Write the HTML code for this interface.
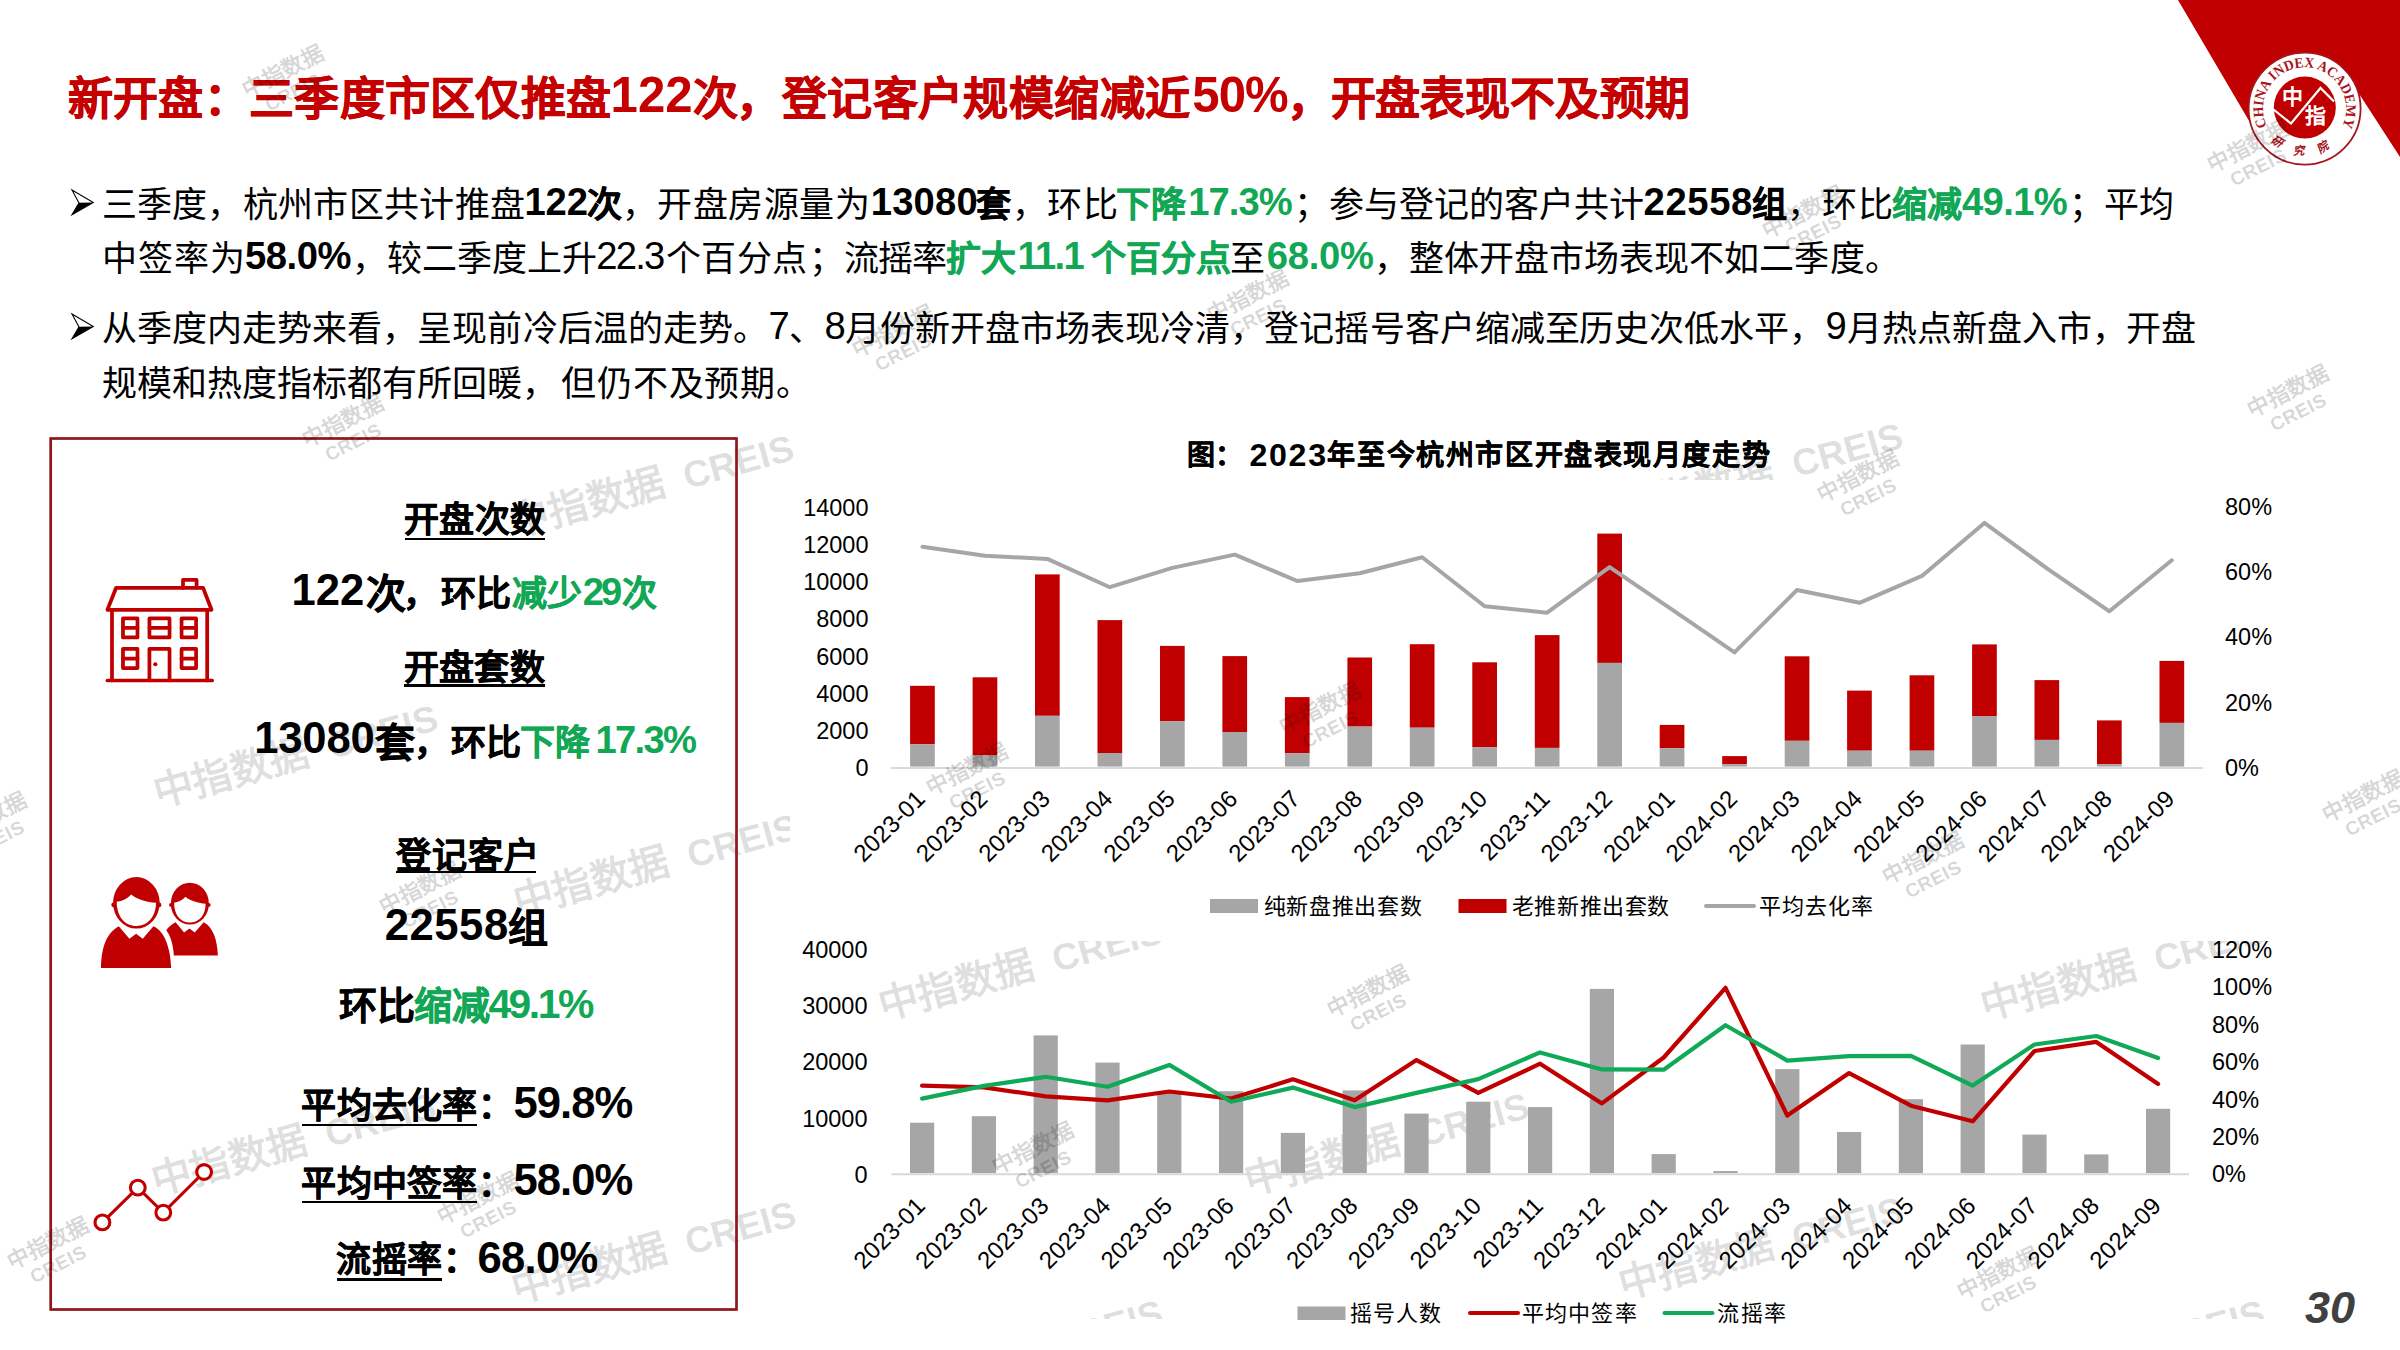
<!DOCTYPE html>
<html lang="zh-CN">
<head>
<meta charset="utf-8">
<title>新开盘</title>
<style>
html,body{margin:0;padding:0;background:#fff;width:2400px;height:1350px;overflow:hidden;}
#page{width:2400px;height:1350px;position:absolute;left:0;top:0;overflow:hidden;background:#fff;}
body{position:relative;font-family:"Liberation Sans",sans-serif;color:#000;}
.abs{position:absolute;white-space:nowrap;}
.b{font-weight:bold;}
.g{color:#12a755;font-weight:bold;}
.d{letter-spacing:1.1px;}
.r{letter-spacing:-0.5px;}
#title{left:68px;top:65px;font-size:45px;line-height:66px;font-weight:bold;color:#c00000;}
#title .d{letter-spacing:2px;}
.body{font-size:35px;line-height:55px;left:102px;}
.wm{position:absolute;white-space:nowrap;color:rgba(0,0,0,0.135);font-weight:bold;transform-origin:0 50%;line-height:1;font-size:40px;}
.wm span{font-size:37px;margin-left:9px;}
.wms{position:absolute;white-space:nowrap;font-weight:bold;color:rgba(0,0,0,0.17);transform-origin:50% 50%;line-height:1;text-align:center;font-size:22px;width:120px;}
.wms span{font-size:19px;font-weight:bold;letter-spacing:0.5px;}
.lp{position:absolute;white-space:nowrap;font-weight:bold;line-height:50px;height:50px;}
.ul{position:absolute;height:2.3px;background:#000;}
svg{position:absolute;left:0;top:0;overflow:visible;}
svg text{font-family:"Liberation Sans",sans-serif;}
</style>
</head>
<body>
<div id="page">
<div class="wm" style="left:154px;top:773.5px;transform:rotate(-15.5deg);">中指数据 <span>CREIS</span></div>
<div class="wm" style="left:152px;top:1162px;transform:rotate(-15.5deg);">中指数据 <span>CREIS</span></div>
<div class="wm" style="left:510px;top:504px;transform:rotate(-15.5deg);">中指数据 <span>CREIS</span></div>
<div class="wm" style="left:514px;top:883px;transform:rotate(-15.5deg);">中指数据 <span>CREIS</span></div>
<div class="wm" style="left:512px;top:1270px;transform:rotate(-15.5deg);">中指数据 <span>CREIS</span></div>
<div class="wm" style="left:878.5px;top:986.5px;transform:rotate(-15.5deg);">中指数据 <span>CREIS</span></div>
<div class="wm" style="left:878.5px;top:1369px;transform:rotate(-15.5deg);">中指数据 <span>CREIS</span></div>
<div class="wm" style="left:1245px;top:1162px;transform:rotate(-15.5deg);">中指数据 <span>CREIS</span></div>
<div class="wm" style="left:1619px;top:1265.5px;transform:rotate(-15.5deg);">中指数据 <span>CREIS</span></div>
<div class="wm" style="left:1619px;top:492px;transform:rotate(-15.5deg);">中指数据 <span>CREIS</span></div>
<div class="wm" style="left:1981px;top:987px;transform:rotate(-15.5deg);">中指数据 <span>CREIS</span></div>
<div class="wm" style="left:1981px;top:1369px;transform:rotate(-15.5deg);">中指数据 <span>CREIS</span></div>
<div class="abs" style="left:790px;top:480px;width:1520px;height:461px;background:#fff;"></div>
<div class="abs" style="left:740px;top:1319px;width:1560px;height:31px;background:#fff;"></div>
<svg width="2400" height="1350" viewBox="0 0 2400 1350">
<polygon points="2178,0 2400,0 2400,157 2345,72 2255,131" fill="#c00000"/>
<circle cx="2304.6" cy="108.6" r="56" fill="#fff" stroke="#a8141c" stroke-width="1.8"/>
<circle cx="2304.8" cy="107.6" r="31" fill="#c00000"/>
<defs>
<path id="arcTop" d="M 2266.9,126.2 A 41.5,41.5 0 1 1 2342.3,126.2"/>
<path id="arcBot" d="M 2266.2,134.5 A 46.5,46.5 0 0 0 2343,134.5"/>
</defs>
<text font-size="14.5" font-weight="bold" fill="#a8141c" style="font-family:'Liberation Serif',serif;"><textPath href="#arcTop" startOffset="0" textLength="166" lengthAdjust="spacingAndGlyphs">CHINA INDEX ACADEMY</textPath></text>
<text font-size="11.5" font-weight="bold" font-style="italic" fill="#a8141c" style="font-family:'Liberation Serif',serif;letter-spacing:15px"><textPath href="#arcBot" startOffset="52%" text-anchor="middle">研究院</textPath></text>
<polyline points="2273.5,109.5 2291,123.5 2320.5,88 2334,101.5" fill="none" stroke="#fff" stroke-width="2.2" stroke-linejoin="miter"/>
<text x="2282" y="104" font-size="21" font-weight="bold" fill="#fff">中</text>
<text x="2305" y="123" font-size="21" font-weight="bold" fill="#fff">指</text>
</svg>
<span class="abs" style="left:67.75px;top:66.5px;font-size:45px;line-height:66px;letter-spacing:0.300px;font-weight:bold;color:#c40000;-webkit-text-stroke:0.58px;">新开盘：三季度市区仅推盘</span><span class="abs" style="left:610.58px;top:62.09px;font-size:49.1px;line-height:66px;letter-spacing:0.062px;font-weight:bold;color:#c40000;">122</span><span class="abs" style="left:693.05px;top:66.5px;font-size:45px;line-height:66px;font-weight:bold;color:#c40000;-webkit-text-stroke:0.58px;">次</span><span class="abs" style="left:736.25px;top:66.5px;font-size:45px;line-height:66px;letter-spacing:0.431px;font-weight:bold;color:#c40000;-webkit-text-stroke:0.58px;">，登记客户规模缩减近</span><span class="abs" style="left:1192.25px;top:62.09px;font-size:49.1px;line-height:66px;letter-spacing:-0.875px;font-weight:bold;color:#c40000;">50%</span><span class="abs" style="left:1286.50px;top:66.5px;font-size:45px;line-height:66px;font-weight:bold;color:#c40000;-webkit-text-stroke:0.58px;">，</span><span class="abs" style="left:1330.50px;top:66.5px;font-size:45px;line-height:66px;letter-spacing:-0.018px;font-weight:bold;color:#c40000;-webkit-text-stroke:0.58px;">开盘表现不及预期</span>
<svg width="2400" height="1350" viewBox="0 0 2400 1350"><path d="M72,190.0 L93.3,202.4 L72,214.8 L79,203.0 Z" fill="#fff" stroke="#000" stroke-width="1.1" stroke-linejoin="miter"/><path d="M79,202.8 L93.3,202.4 L72,214.8 Z" fill="#000"/></svg>
<svg width="2400" height="1350" viewBox="0 0 2400 1350"><path d="M72,314.0 L93.3,326.4 L72,338.79999999999995 L79,327.0 Z" fill="#fff" stroke="#000" stroke-width="1.1" stroke-linejoin="miter"/><path d="M79,326.79999999999995 L93.3,326.4 L72,338.79999999999995 Z" fill="#000"/></svg>
<span class="abs" style="left:101.65px;top:176.5px;font-size:35px;line-height:55px;letter-spacing:0.286px;">三季度，杭州市区共计推盘</span><span class="abs b" style="left:524.52px;top:173.86px;font-size:38.2px;line-height:55px;letter-spacing:-0.137px;">122</span><span class="abs b" style="left:587.00px;top:176.5px;font-size:35px;line-height:55px;-webkit-text-stroke:0.45px;">次</span><span class="abs" style="left:621.55px;top:176.5px;font-size:35px;line-height:55px;letter-spacing:0.533px;">，开盘房源量为</span><span class="abs b" style="left:870.73px;top:173.86px;font-size:38.2px;line-height:55px;letter-spacing:0.194px;">13080</span><span class="abs b" style="left:976.02px;top:176.5px;font-size:35px;line-height:55px;-webkit-text-stroke:0.45px;">套</span><span class="abs" style="left:1012.15px;top:176.5px;font-size:35px;line-height:55px;letter-spacing:0.225px;">，环比</span><span class="abs g" style="left:1116.01px;top:176.5px;font-size:35px;line-height:55px;-webkit-text-stroke:0.45px;">下降</span><span class="abs g" style="left:1188.22px;top:173.86px;font-size:38.2px;line-height:55px;letter-spacing:-0.925px;">17.3%</span><span class="abs" style="left:1294.28px;top:176.5px;font-size:35px;line-height:55px;letter-spacing:0.022px;">；参与登记的客户共计</span><span class="abs b" style="left:1643.62px;top:173.86px;font-size:38.2px;line-height:55px;letter-spacing:0.625px;">22558</span><span class="abs b" style="left:1751.97px;top:176.5px;font-size:35px;line-height:55px;-webkit-text-stroke:0.45px;">组</span><span class="abs" style="left:1787.15px;top:176.5px;font-size:35px;line-height:55px;letter-spacing:0.225px;">，环比</span><span class="abs g" style="left:1891.81px;top:176.5px;font-size:35px;line-height:55px;-webkit-text-stroke:0.45px;">缩减</span><span class="abs g" style="left:1961.88px;top:173.86px;font-size:38.2px;line-height:55px;letter-spacing:-0.587px;">49.1%</span><span class="abs" style="left:2069.28px;top:176.5px;font-size:35px;line-height:55px;letter-spacing:0.062px;">；平均</span>
<span class="abs" style="left:102.22px;top:231px;font-size:35px;line-height:55px;letter-spacing:0.842px;">中签率为</span><span class="abs b" style="left:245.00px;top:228.36px;font-size:38.2px;line-height:55px;letter-spacing:-0.444px;">58.0%</span><span class="abs" style="left:351.50px;top:231px;font-size:35px;line-height:55px;letter-spacing:0.042px;">，较二季度上升</span><span class="abs" style="left:596.23px;top:228.36px;font-size:38.2px;line-height:55px;letter-spacing:-1.742px;">22.3</span><span class="abs" style="left:666.25px;top:231px;font-size:35px;line-height:55px;letter-spacing:0.167px;">个百分点</span><span class="abs" style="left:809.27px;top:231px;font-size:35px;line-height:55px;letter-spacing:-0.642px;">；流摇率</span><span class="abs g" style="left:946.01px;top:231px;font-size:35px;line-height:55px;-webkit-text-stroke:0.45px;">扩大</span><span class="abs g" style="left:1017.62px;top:228.36px;font-size:38.2px;line-height:55px;letter-spacing:-1.708px;">11.1</span><span class="abs g" style="left:1091.03px;top:231px;font-size:35px;line-height:55px;letter-spacing:0.033px;-webkit-text-stroke:0.45px;">个百分点</span><span class="abs" style="left:1230.03px;top:231px;font-size:35px;line-height:55px;">至</span><span class="abs g" style="left:1266.72px;top:228.36px;font-size:38.2px;line-height:55px;letter-spacing:-0.250px;">68.0%</span><span class="abs" style="left:1374.00px;top:231px;font-size:35px;line-height:55px;letter-spacing:0.041px;">，整体开盘市场表现不如二季度。</span>
<span class="abs" style="left:101.80px;top:300.5px;font-size:35px;line-height:55px;letter-spacing:0.060px;">从季度内走势来看，呈现前冷后温的走势。</span><span class="abs" style="left:768.60px;top:298.36px;font-size:38.2px;line-height:55px;">7</span><span class="abs" style="left:788.73px;top:300.5px;font-size:35px;line-height:55px;">、</span><span class="abs" style="left:824.62px;top:298.36px;font-size:38.2px;line-height:55px;">8</span><span class="abs" style="left:845.25px;top:300.5px;font-size:35px;line-height:55px;">月份新开盘市场表现冷清，</span><span class="abs" style="left:1264.00px;top:300.5px;font-size:35px;line-height:55px;letter-spacing:0.181px;">登记摇号客户缩减至</span><span class="abs" style="left:1579.35px;top:300.5px;font-size:35px;line-height:55px;">历史次低水平，</span><span class="abs" style="left:1825.55px;top:298.36px;font-size:38.2px;line-height:55px;">9</span><span class="abs" style="left:1847.20px;top:300.5px;font-size:35px;line-height:55px;">月热点新盘入市，</span><span class="abs" style="left:2125.78px;top:300.5px;font-size:35px;line-height:55px;">开盘</span>
<span class="abs" style="left:102.05px;top:356px;font-size:35px;line-height:55px;">规模和热度指标都有所回暖，</span><span class="abs" style="left:560.83px;top:356px;font-size:35px;line-height:55px;letter-spacing:0.892px;">但仍不及预期。</span>
<svg width="2400" height="1350" viewBox="0 0 2400 1350"><rect x="50.7" y="438.5" width="685.8" height="871" fill="none" stroke="#8f161b" stroke-width="2.7"/></svg>
<span class="abs" style="left:404.30px;top:495px;font-size:35px;line-height:50px;letter-spacing:0.175px;font-weight:bold;-webkit-text-stroke:0.45px;">开盘次数</span>
<div class="ul" style="left:405px;top:537.5px;width:140px;"></div>
<span class="abs" style="left:291.55px;top:564.79px;font-size:43.6px;line-height:50px;letter-spacing:0.025px;font-weight:bold;">122</span><span class="abs" style="left:365.57px;top:568.5px;font-size:40px;line-height:50px;font-weight:bold;-webkit-text-stroke:0.52px;">次</span><span class="abs" style="left:403.45px;top:568.5px;font-size:35px;line-height:50px;font-weight:bold;-webkit-text-stroke:0.45px;">，</span><span class="abs" style="left:441.11px;top:568.5px;font-size:35px;line-height:50px;font-weight:bold;-webkit-text-stroke:0.45px;">环比</span><span class="abs g" style="left:512.35px;top:568.5px;font-size:35px;line-height:50px;font-weight:bold;-webkit-text-stroke:0.45px;">减少</span><span class="abs g" style="left:582.83px;top:566.66px;font-size:38.2px;line-height:50px;letter-spacing:-3.150px;font-weight:bold;">29</span><span class="abs g" style="left:622.30px;top:568.5px;font-size:35px;line-height:50px;font-weight:bold;-webkit-text-stroke:0.45px;">次</span>
<span class="abs" style="left:403.50px;top:643px;font-size:35px;line-height:50px;letter-spacing:0.375px;font-weight:bold;-webkit-text-stroke:0.45px;">开盘套数</span>
<div class="ul" style="left:404.4px;top:684.4px;width:140.60000000000002px;"></div>
<span class="abs" style="left:254.25px;top:712.79px;font-size:43.6px;line-height:50px;letter-spacing:-0.188px;font-weight:bold;">13080</span><span class="abs" style="left:375.00px;top:717.5px;font-size:40px;line-height:50px;font-weight:bold;-webkit-text-stroke:0.52px;">套</span><span class="abs" style="left:414.25px;top:717.5px;font-size:35px;line-height:50px;font-weight:bold;-webkit-text-stroke:0.45px;">，</span><span class="abs" style="left:450.81px;top:717.5px;font-size:35px;line-height:50px;font-weight:bold;-webkit-text-stroke:0.45px;">环比</span><span class="abs g" style="left:520.44px;top:717.5px;font-size:35px;line-height:50px;font-weight:bold;-webkit-text-stroke:0.45px;">下降</span><span class="abs g" style="left:595.62px;top:714.66px;font-size:38.2px;line-height:50px;letter-spacing:-1.750px;font-weight:bold;">17.3%</span>
<span class="abs" style="left:395.77px;top:831px;font-size:35px;line-height:50px;letter-spacing:1.217px;font-weight:bold;-webkit-text-stroke:0.45px;">登记客户</span>
<div class="ul" style="left:395.6px;top:871.1999999999999px;width:140.39999999999998px;"></div>
<span class="abs" style="left:384.80px;top:899.89px;font-size:43.6px;line-height:50px;letter-spacing:0.531px;font-weight:bold;">22558</span><span class="abs" style="left:507.82px;top:903px;font-size:40px;line-height:50px;font-weight:bold;-webkit-text-stroke:0.52px;">组</span>
<span class="abs" style="left:339.38px;top:981px;font-size:38px;line-height:50px;font-weight:bold;-webkit-text-stroke:0.49px;">环比</span><span class="abs g" style="left:414.34px;top:981px;font-size:38px;line-height:50px;font-weight:bold;-webkit-text-stroke:0.49px;">缩减</span><span class="abs g" style="left:488.38px;top:978.53px;font-size:40.9px;line-height:50px;letter-spacing:-2.512px;font-weight:bold;">49.1%</span>
<span class="abs" style="left:301.38px;top:1081px;font-size:35px;line-height:50px;letter-spacing:0.231px;font-weight:bold;-webkit-text-stroke:0.45px;">平均去化率</span><span class="abs" style="left:477.73px;top:1081px;font-size:35px;line-height:50px;font-weight:bold;-webkit-text-stroke:0.45px;">：</span><span class="abs" style="left:513.52px;top:1077.89px;font-size:43.6px;line-height:50px;letter-spacing:-0.956px;font-weight:bold;">59.8%</span>
<div class="ul" style="left:301.7px;top:1124.0px;width:175.40000000000003px;"></div>
<span class="abs" style="left:301.38px;top:1159px;font-size:35px;line-height:50px;letter-spacing:0.231px;font-weight:bold;-webkit-text-stroke:0.45px;">平均中签率</span><span class="abs" style="left:477.73px;top:1159px;font-size:35px;line-height:50px;font-weight:bold;-webkit-text-stroke:0.45px;">：</span><span class="abs" style="left:513.52px;top:1155.29px;font-size:43.6px;line-height:50px;letter-spacing:-0.956px;font-weight:bold;">58.0%</span>
<div class="ul" style="left:301.7px;top:1201.2px;width:175.40000000000003px;"></div>
<span class="abs" style="left:336.18px;top:1235px;font-size:35px;line-height:50px;letter-spacing:0.512px;font-weight:bold;-webkit-text-stroke:0.45px;">流摇率</span><span class="abs" style="left:442.62px;top:1235px;font-size:35px;line-height:50px;font-weight:bold;-webkit-text-stroke:0.45px;">：</span><span class="abs" style="left:477.38px;top:1232.69px;font-size:43.6px;line-height:50px;letter-spacing:-0.669px;font-weight:bold;">68.0%</span>
<div class="ul" style="left:336.8px;top:1278.3000000000002px;width:104.80000000000001px;"></div>
<div class="abs" id="pg" style="left:2305px;top:1284px;font-size:45px;line-height:48px;font-weight:bold;font-style:italic;color:#404040;">30</div>
<svg style="left:90px;top:560px" width="140" height="140" viewBox="0 0 1350 1350">
<g fill="none" stroke="#c00000" stroke-width="36" stroke-linejoin="round" stroke-linecap="round">
<path d="M168,1162 H1178"/>
<path d="M212,480 V1162 M1130,480 V1162"/>
<path d="M168,480 L252,268 H1090 L1172,480 Z"/>
<path d="M897,268 V192 H1028 V268"/>
<rect x="318" y="563" width="140" height="184"/><path d="M318,655 H458"/>
<rect x="573" y="563" width="194" height="184"/><path d="M573,655 H767"/>
<rect x="883" y="563" width="140" height="184"/><path d="M883,655 H1023"/>
<rect x="318" y="858" width="140" height="184"/><path d="M318,950 H458"/>
<rect x="883" y="858" width="140" height="184"/><path d="M883,950 H1023"/>
<path d="M573,1162 V858 H767 V1162"/>
</g>
<circle cx="630" cy="1005" r="20" fill="#c00000"/>
</svg>
<svg style="left:85px;top:860px" width="150" height="120" viewBox="0 0 1688 1350">
<g fill="#c00000">
<path d="M1000,1075 C992,950 962,850 915,790 C940,752 980,722 1020,700 L1115,815 L1175,770 L1235,815 L1335,700 C1440,750 1490,900 1495,1075 Z"/>
<ellipse cx="1180" cy="491" rx="214" ry="236"/>
<circle cx="968" cy="505" r="22"/><circle cx="1392" cy="505" r="22"/>
</g>
<path d="M1003,480 C1003,620 1075,703 1180,703 C1285,703 1357,620 1357,492 C1280,482 1180,458 1130,412 C1100,447 1050,472 1003,480 Z" fill="#fff"/>
<g fill="#c00000" stroke="#fff" stroke-width="26" paint-order="stroke">
<path d="M180,1215 C185,1000 230,830 380,745 L500,885 L575,830 L650,885 L770,745 C900,800 962,1000 970,1215 Z"/>
</g>
<g fill="#c00000">
<ellipse cx="578" cy="482" rx="262" ry="290"/>
<circle cx="322" cy="505" r="26"/><circle cx="834" cy="505" r="26"/>
</g>
<path d="M357,470 C357,640 450,743 578,743 C705,743 799,640 799,482 C700,472 580,442 520,387 C480,432 420,462 357,470 Z" fill="#fff"/>
</svg>
<svg width="2400" height="1350" viewBox="0 0 2400 1350"><g stroke="#c00000" stroke-width="3.1" fill="#fff"><polyline fill="none" points="102.4,1222.4 137.8,1187.6 163.3,1212.6 204.1,1172"/><circle cx="102.4" cy="1222.4" r="7.4"/><circle cx="137.8" cy="1187.6" r="7.4"/><circle cx="163.3" cy="1212.6" r="7.4"/><circle cx="204.1" cy="1172" r="7.4"/></g></svg>
<svg width="2400" height="1350" viewBox="0 0 2400 1350">
<line x1="891.2" y1="768" x2="2203" y2="768" stroke="#d9d9d9" stroke-width="2"/>
<rect x="910.1" y="685.8" width="24.7" height="58.4" fill="#c00000"/><rect x="910.1" y="744.2" width="24.7" height="22.4" fill="#a6a6a6"/>
<rect x="972.6" y="677.3" width="24.7" height="78.2" fill="#c00000"/><rect x="972.6" y="755.5" width="24.7" height="11.1" fill="#a6a6a6"/>
<rect x="1035.0" y="574.4" width="24.7" height="141.4" fill="#c00000"/><rect x="1035.0" y="715.8" width="24.7" height="50.8" fill="#a6a6a6"/>
<rect x="1097.5" y="620.1" width="24.7" height="132.9" fill="#c00000"/><rect x="1097.5" y="753.0" width="24.7" height="13.6" fill="#a6a6a6"/>
<rect x="1160.0" y="645.9" width="24.7" height="75.3" fill="#c00000"/><rect x="1160.0" y="721.2" width="24.7" height="45.4" fill="#a6a6a6"/>
<rect x="1222.4" y="656.1" width="24.7" height="75.9" fill="#c00000"/><rect x="1222.4" y="732.0" width="24.7" height="34.6" fill="#a6a6a6"/>
<rect x="1284.9" y="697.1" width="24.7" height="56.1" fill="#c00000"/><rect x="1284.9" y="753.2" width="24.7" height="13.4" fill="#a6a6a6"/>
<rect x="1347.4" y="657.5" width="24.7" height="69.1" fill="#c00000"/><rect x="1347.4" y="726.6" width="24.7" height="40.0" fill="#a6a6a6"/>
<rect x="1409.8" y="644.2" width="24.7" height="83.5" fill="#c00000"/><rect x="1409.8" y="727.7" width="24.7" height="38.9" fill="#a6a6a6"/>
<rect x="1472.3" y="662.3" width="24.7" height="85.0" fill="#c00000"/><rect x="1472.3" y="747.3" width="24.7" height="19.3" fill="#a6a6a6"/>
<rect x="1534.8" y="635.1" width="24.7" height="112.8" fill="#c00000"/><rect x="1534.8" y="747.9" width="24.7" height="18.7" fill="#a6a6a6"/>
<rect x="1597.3" y="533.6" width="24.7" height="129.3" fill="#c00000"/><rect x="1597.3" y="662.9" width="24.7" height="103.7" fill="#a6a6a6"/>
<rect x="1659.7" y="724.9" width="24.7" height="23.2" fill="#c00000"/><rect x="1659.7" y="748.1" width="24.7" height="18.5" fill="#a6a6a6"/>
<rect x="1722.2" y="756.1" width="24.7" height="8.2" fill="#c00000"/><rect x="1722.2" y="764.3" width="24.7" height="2.3" fill="#a6a6a6"/>
<rect x="1784.7" y="656.3" width="24.7" height="84.5" fill="#c00000"/><rect x="1784.7" y="740.8" width="24.7" height="25.8" fill="#a6a6a6"/>
<rect x="1847.1" y="690.6" width="24.7" height="60.1" fill="#c00000"/><rect x="1847.1" y="750.7" width="24.7" height="15.9" fill="#a6a6a6"/>
<rect x="1909.6" y="675.3" width="24.7" height="75.4" fill="#c00000"/><rect x="1909.6" y="750.7" width="24.7" height="15.9" fill="#a6a6a6"/>
<rect x="1972.1" y="644.4" width="24.7" height="72.0" fill="#c00000"/><rect x="1972.1" y="716.4" width="24.7" height="50.2" fill="#a6a6a6"/>
<rect x="2034.5" y="680.1" width="24.7" height="59.8" fill="#c00000"/><rect x="2034.5" y="739.9" width="24.7" height="26.7" fill="#a6a6a6"/>
<rect x="2097.0" y="720.4" width="24.7" height="43.9" fill="#c00000"/><rect x="2097.0" y="764.3" width="24.7" height="2.3" fill="#a6a6a6"/>
<rect x="2159.5" y="660.9" width="24.7" height="62.0" fill="#c00000"/><rect x="2159.5" y="722.9" width="24.7" height="43.7" fill="#a6a6a6"/>
<polyline points="922.4,546.7 984.9,555.7 1047.4,558.9 1109.8,587.2 1172.3,567.9 1234.8,554.6 1297.3,581.0 1359.7,573.3 1422.2,557.2 1484.7,606.2 1547.1,612.7 1609.6,567.1 1672.1,609.6 1734.5,652.4 1797.0,590.0 1859.5,602.8 1922.0,575.9 1984.4,522.9 2046.9,568.4 2109.4,611.3 2171.8,560.3" fill="none" stroke="#a6a6a6" stroke-width="4" stroke-linejoin="round" stroke-linecap="round"/>
<g font-size="23.5" text-anchor="end" fill="#000">
<text x="868.5" y="776.0">0</text><text x="868.5" y="738.9">2000</text><text x="868.5" y="701.7">4000</text><text x="868.5" y="664.6">6000</text><text x="868.5" y="627.4">8000</text><text x="868.5" y="590.3">10000</text><text x="868.5" y="553.2">12000</text><text x="868.5" y="516.0">14000</text>
</g>
<g font-size="23.5" fill="#000">
<text x="2225" y="775.6">0%</text><text x="2225" y="710.5">20%</text><text x="2225" y="645.4">40%</text><text x="2225" y="580.3">60%</text><text x="2225" y="515.2">80%</text>
</g>
<g font-size="24" text-anchor="end" fill="#000" letter-spacing="0.15">
<text transform="translate(926.6,800.3) rotate(-45)">2023-01</text><text transform="translate(989.1,800.3) rotate(-45)">2023-02</text><text transform="translate(1051.6,800.3) rotate(-45)">2023-03</text><text transform="translate(1114.0,800.3) rotate(-45)">2023-04</text><text transform="translate(1176.5,800.3) rotate(-45)">2023-05</text><text transform="translate(1239.0,800.3) rotate(-45)">2023-06</text><text transform="translate(1301.5,800.3) rotate(-45)">2023-07</text><text transform="translate(1363.9,800.3) rotate(-45)">2023-08</text><text transform="translate(1426.4,800.3) rotate(-45)">2023-09</text><text transform="translate(1488.9,800.3) rotate(-45)">2023-10</text><text transform="translate(1551.3,800.3) rotate(-45)">2023-11</text><text transform="translate(1613.8,800.3) rotate(-45)">2023-12</text><text transform="translate(1676.3,800.3) rotate(-45)">2024-01</text><text transform="translate(1738.7,800.3) rotate(-45)">2024-02</text><text transform="translate(1801.2,800.3) rotate(-45)">2024-03</text><text transform="translate(1863.7,800.3) rotate(-45)">2024-04</text><text transform="translate(1926.2,800.3) rotate(-45)">2024-05</text><text transform="translate(1988.6,800.3) rotate(-45)">2024-06</text><text transform="translate(2051.1,800.3) rotate(-45)">2024-07</text><text transform="translate(2113.6,800.3) rotate(-45)">2024-08</text><text transform="translate(2176.0,800.3) rotate(-45)">2024-09</text>
</g>
<rect x="1210" y="899" width="48" height="14" fill="#a6a6a6"/><rect x="1458.5" y="899" width="48" height="14" fill="#c00000"/><line x1="1706" y1="906" x2="1754" y2="906" stroke="#a6a6a6" stroke-width="4" stroke-linecap="round"/>
<line x1="891.2" y1="1174.3" x2="2189" y2="1174.3" stroke="#d9d9d9" stroke-width="2"/>
<rect x="910.0" y="1122.7" width="24.2" height="50.3" fill="#a6a6a6"/><rect x="971.8" y="1116.2" width="24.2" height="56.8" fill="#a6a6a6"/><rect x="1033.6" y="1035.4" width="24.2" height="137.6" fill="#a6a6a6"/><rect x="1095.4" y="1062.6" width="24.2" height="110.4" fill="#a6a6a6"/><rect x="1157.2" y="1091.2" width="24.2" height="81.8" fill="#a6a6a6"/><rect x="1219.0" y="1091.2" width="24.2" height="81.8" fill="#a6a6a6"/><rect x="1280.8" y="1132.9" width="24.2" height="40.1" fill="#a6a6a6"/><rect x="1342.6" y="1090.4" width="24.2" height="82.6" fill="#a6a6a6"/><rect x="1404.4" y="1113.6" width="24.2" height="59.4" fill="#a6a6a6"/><rect x="1466.2" y="1101.7" width="24.2" height="71.3" fill="#a6a6a6"/><rect x="1528.0" y="1107.1" width="24.2" height="65.9" fill="#a6a6a6"/><rect x="1589.8" y="988.9" width="24.2" height="184.1" fill="#a6a6a6"/><rect x="1651.6" y="1154.1" width="24.2" height="18.9" fill="#a6a6a6"/><rect x="1713.4" y="1171.1" width="24.2" height="1.9" fill="#a6a6a6"/><rect x="1775.2" y="1069.1" width="24.2" height="103.9" fill="#a6a6a6"/><rect x="1837.0" y="1132.0" width="24.2" height="41.0" fill="#a6a6a6"/><rect x="1898.8" y="1099.2" width="24.2" height="73.8" fill="#a6a6a6"/><rect x="1960.6" y="1044.5" width="24.2" height="128.5" fill="#a6a6a6"/><rect x="2022.4" y="1134.6" width="24.2" height="38.4" fill="#a6a6a6"/><rect x="2084.2" y="1154.4" width="24.2" height="18.6" fill="#a6a6a6"/><rect x="2146.0" y="1108.8" width="24.2" height="64.2" fill="#a6a6a6"/>
<polyline points="922.1,1085.6 983.9,1087.3 1045.7,1096.3 1107.5,1100.3 1169.3,1091.5 1231.1,1098.6 1292.9,1079.3 1354.7,1100.3 1416.5,1060.1 1478.3,1092.9 1540.1,1063.7 1601.9,1103.4 1663.7,1057.5 1725.5,987.8 1787.3,1115.6 1849.1,1073.1 1910.9,1105.7 1972.7,1121.3 2034.5,1051.0 2096.3,1041.9 2158.1,1083.9" fill="none" stroke="#c00000" stroke-width="4.2" stroke-linejoin="round" stroke-linecap="round"/>
<polyline points="922.1,1098.6 983.9,1085.9 1045.7,1076.8 1107.5,1086.7 1169.3,1064.9 1231.1,1101.7 1292.9,1087.6 1354.7,1107.1 1416.5,1092.9 1478.3,1079.1 1540.1,1052.4 1601.9,1069.4 1663.7,1069.7 1725.5,1025.2 1787.3,1060.6 1849.1,1056.1 1910.9,1055.8 1972.7,1085.6 2034.5,1044.5 2096.3,1036.0 2158.1,1058.1" fill="none" stroke="#0fa958" stroke-width="4.2" stroke-linejoin="round" stroke-linecap="round"/>
<g font-size="23.5" text-anchor="end" fill="#000">
<text x="867.5" y="1182.7">0</text><text x="867.5" y="1126.5">10000</text><text x="867.5" y="1070.3">20000</text><text x="867.5" y="1014.1">30000</text><text x="867.5" y="957.9">40000</text>
</g>
<g font-size="23.5" fill="#000">
<text x="2212" y="1182.3">0%</text><text x="2212" y="1144.9">20%</text><text x="2212" y="1107.5">40%</text><text x="2212" y="1070.0">60%</text><text x="2212" y="1032.6">80%</text><text x="2212" y="995.2">100%</text><text x="2212" y="957.8">120%</text>
</g>
<g font-size="24" text-anchor="end" fill="#000" letter-spacing="0.15">
<text transform="translate(926.6,1207.3) rotate(-45)">2023-01</text><text transform="translate(988.4,1207.3) rotate(-45)">2023-02</text><text transform="translate(1050.2,1207.3) rotate(-45)">2023-03</text><text transform="translate(1112.0,1207.3) rotate(-45)">2023-04</text><text transform="translate(1173.8,1207.3) rotate(-45)">2023-05</text><text transform="translate(1235.6,1207.3) rotate(-45)">2023-06</text><text transform="translate(1297.4,1207.3) rotate(-45)">2023-07</text><text transform="translate(1359.2,1207.3) rotate(-45)">2023-08</text><text transform="translate(1421.0,1207.3) rotate(-45)">2023-09</text><text transform="translate(1482.8,1207.3) rotate(-45)">2023-10</text><text transform="translate(1544.6,1207.3) rotate(-45)">2023-11</text><text transform="translate(1606.4,1207.3) rotate(-45)">2023-12</text><text transform="translate(1668.2,1207.3) rotate(-45)">2024-01</text><text transform="translate(1730.0,1207.3) rotate(-45)">2024-02</text><text transform="translate(1791.8,1207.3) rotate(-45)">2024-03</text><text transform="translate(1853.6,1207.3) rotate(-45)">2024-04</text><text transform="translate(1915.4,1207.3) rotate(-45)">2024-05</text><text transform="translate(1977.2,1207.3) rotate(-45)">2024-06</text><text transform="translate(2039.0,1207.3) rotate(-45)">2024-07</text><text transform="translate(2100.8,1207.3) rotate(-45)">2024-08</text><text transform="translate(2162.6,1207.3) rotate(-45)">2024-09</text>
</g>
<rect x="1297.5" y="1306.5" width="48" height="13.5" fill="#a6a6a6"/><line x1="1470" y1="1313" x2="1518" y2="1313" stroke="#c00000" stroke-width="4" stroke-linecap="round"/><line x1="1664.5" y1="1313" x2="1712.5" y2="1313" stroke="#0fa958" stroke-width="4" stroke-linecap="round"/>
</svg>
<span class="abs" style="left:1187.40px;top:435.5px;font-size:28px;line-height:40px;font-weight:bold;-webkit-text-stroke:0.36px;">图：</span><span class="abs" style="left:1249.47px;top:434.64px;font-size:32.2px;line-height:40px;letter-spacing:1.675px;font-weight:bold;">2023</span><span class="abs" style="left:1327.38px;top:435.5px;font-size:28px;line-height:40px;letter-spacing:1.591px;font-weight:bold;-webkit-text-stroke:0.36px;">年至今杭州市区开盘表现月度走势</span>
<span class="abs" style="left:1263.83px;top:891.7px;font-size:22px;line-height:30px;letter-spacing:0.633px;">纯新盘推出套数</span><span class="abs" style="left:1511.75px;top:891.7px;font-size:22px;line-height:30px;letter-spacing:0.612px;">老推新推出套数</span><span class="abs" style="left:1759.28px;top:891.7px;font-size:22px;line-height:30px;letter-spacing:0.962px;">平均去化率</span><span class="abs" style="left:1349.75px;top:1298.6999999999998px;font-size:22px;line-height:30px;letter-spacing:1.125px;">摇号人数</span><span class="abs" style="left:1522.12px;top:1298.6999999999998px;font-size:22px;line-height:30px;letter-spacing:1.125px;">平均中签率</span><span class="abs" style="left:1717.38px;top:1298.6999999999998px;font-size:22px;line-height:30px;letter-spacing:1.375px;">流摇率</span>
<div class="wms" style="left:228px;top:60px;transform:rotate(-27deg);">中指数据<br><span>CREIS</span></div>
<div class="wms" style="left:2193px;top:135px;transform:rotate(-27deg);">中指数据<br><span>CREIS</span></div>
<div class="wms" style="left:1748px;top:201px;transform:rotate(-27deg);">中指数据<br><span>CREIS</span></div>
<div class="wms" style="left:1193px;top:285px;transform:rotate(-27deg);">中指数据<br><span>CREIS</span></div>
<div class="wms" style="left:838px;top:320px;transform:rotate(-27deg);">中指数据<br><span>CREIS</span></div>
<div class="wms" style="left:2233px;top:380px;transform:rotate(-27deg);">中指数据<br><span>CREIS</span></div>
<div class="wms" style="left:288px;top:410px;transform:rotate(-27deg);">中指数据<br><span>CREIS</span></div>
<div class="wms" style="left:1803px;top:465px;transform:rotate(-27deg);">中指数据<br><span>CREIS</span></div>
<div class="wms" style="left:1265px;top:697px;transform:rotate(-27deg);">中指数据<br><span>CREIS</span></div>
<div class="wms" style="left:912px;top:758px;transform:rotate(-27deg);">中指数据<br><span>CREIS</span></div>
<div class="wms" style="left:-69px;top:807px;transform:rotate(-27deg);">中指数据<br><span>CREIS</span></div>
<div class="wms" style="left:2308px;top:785px;transform:rotate(-27deg);">中指数据<br><span>CREIS</span></div>
<div class="wms" style="left:1868px;top:847px;transform:rotate(-27deg);">中指数据<br><span>CREIS</span></div>
<div class="wms" style="left:365px;top:877px;transform:rotate(-27deg);">中指数据<br><span>CREIS</span></div>
<div class="wms" style="left:1313px;top:980px;transform:rotate(-27deg);">中指数据<br><span>CREIS</span></div>
<div class="wms" style="left:978px;top:1137px;transform:rotate(-27deg);">中指数据<br><span>CREIS</span></div>
<div class="wms" style="left:423px;top:1187px;transform:rotate(-27deg);">中指数据<br><span>CREIS</span></div>
<div class="wms" style="left:-7px;top:1232px;transform:rotate(-27deg);">中指数据<br><span>CREIS</span></div>
<div class="wms" style="left:1943px;top:1262px;transform:rotate(-27deg);">中指数据<br><span>CREIS</span></div>
</div>
</body>
</html>
